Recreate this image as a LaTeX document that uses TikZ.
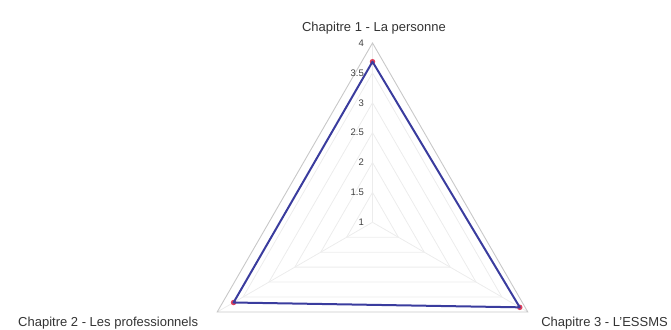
\documentclass[tikz,border=0pt]{standalone}
\usepackage{fontspec}
\setmainfont{Liberation Sans}

\definecolor{bleu}{HTML}{3A3C9E}
\definecolor{rouge}{HTML}{E0405A}
\definecolor{grille}{HTML}{ECECEC}
\definecolor{cadre}{HTML}{C8C8C8}
\newcommand\echelle{59.77}

\tikzset{chapitre/.style={font=\fontsize{13}{15}\selectfont,text=black!80,inner sep=0pt},
graduation/.style={font=\fontsize{9.5}{11}\selectfont,text=black!75,anchor=east,inner sep=0pt},
point/.style={circle,fill=rouge,inner sep=0pt,minimum size=#1},
point/.default={5.5pt}}

\begin{document}
\begin{tikzpicture}[x=1pt,y=1pt]
\useasboundingbox (-372.5,-106.7) rectangle (298.5,222.3);
% axes et cadre
\coordinate (O) at (0,0);
\coordinate (A1) at (90:{3*\echelle});
\coordinate (A2) at (210:{3*\echelle});
\coordinate (A3) at (330:{3*\echelle});
\foreach \v in {1.5,2,2.5,3,3.5}
	\draw[grille,line width=0.8pt] (90:{(\v-1)*\echelle}) -- (210:{(\v-1)*\echelle}) -- (330:{(\v-1)*\echelle}) -- cycle;
\foreach \a in {A1,A2,A3}
	\draw[grille,line width=0.8pt] (O) -- (\a);
\draw[cadre,line width=0.9pt] (A1) -- (A2) -- (A3) -- cycle;
% graduations
\foreach \v [count=\i] in {1,1.5,2,2.5,3,3.5,4}
	\node[graduation] (g\i) at (-8.5,{(\v-1)*\echelle}) {\v};
% donnees
\node[point] (p1) at (90:{2.687*\echelle}) {};
\node[point] (p2) at (210:{2.684*\echelle}) {};
\node[point] (p3) at (330:{2.845*\echelle}) {};
\draw[bleu,line width=2pt,line join=round] (p1.center) -- (p2.center) -- (p3.center) -- cycle;
% chapitres
\node[chapitre] (c1) at (1.5,194.6) {Chapitre 1 - La personne};
\node[chapitre,anchor=west] (c2) at (-354.5,-100.7) {Chapitre 2 - Les professionnels};
\node[chapitre,anchor=east] (c3) at (295.5,-100.7) {Chapitre 3 - L'ESSMS};
\end{tikzpicture}
\end{document}
